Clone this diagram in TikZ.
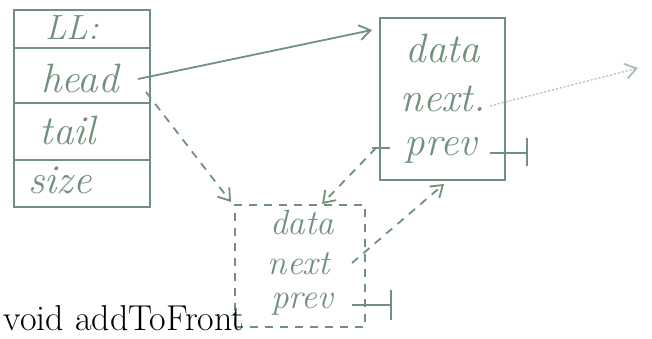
\documentclass[tikz,border=0pt]{standalone}
\usetikzlibrary{arrows.meta}
\definecolor{pencil}{RGB}{112,145,125}
\definecolor{pencilfaint}{RGB}{170,190,178}
\begin{document}
\begin{tikzpicture}[x=1pt,y=-1pt,
  line width=1.8pt, draw=pencil,
  cell/.style={draw=pencil, minimum width=136pt, inner sep=0pt},
  lbl/.style={text=pencil, font=\fontsize{41}{44}\selectfont\itshape, inner sep=0pt},
  smalllbl/.style={lbl, font=\fontsize{35}{37}\selectfont\itshape},
  tip/.style={-{Straight Barb[length=11pt,width=15pt,line width=1.8pt]}},
  sketchdash/.style={dash pattern=on 8pt off 7pt}]
\useasboundingbox (0,0) rectangle (652,339);

% LL object: a stack of four cells
\node[cell, minimum height=38pt] (llhdr)  at (82,29)  {};
\node[cell, minimum height=55pt] (llhead) at (82,75.5) {};
\node[cell, minimum height=57pt] (lltail) at (82,131.5) {};
\node[cell, minimum height=47pt] (llsize) at (82,183.5) {};
\node[lbl, font=\fontsize{35}{37}\selectfont\itshape] (tLL) at (72,28) {LL:};
\node[lbl] (thead) at (80,78) {head};
\node[lbl] (ttail) at (68,130) {tail};
\node[lbl] (tsize) at (60,180) {size};

% existing front node
\node[draw=pencil, minimum width=125pt, minimum height=162pt, inner sep=0pt] (n1) at (442.5,99) {};
\node[lbl] (n1data) at (443,48) {data};
\node[lbl] (n1next) at (443,99) {next.};
\node[lbl] (n1prev) at (441,150) {prev};

% new node (dashed)
\node[draw=pencil, sketchdash, minimum width=130pt, minimum height=122pt, inner sep=0pt] (n2) at (300,266) {};
\node[smalllbl] (n2data) at (302,223) {data};
\node[smalllbl] (n2next) at (299,264) {next};
\node[smalllbl] (n2prev) at (302,304) {prev};

% free ends
\coordinate (headsrc) at (138,79);
\coordinate (n1in) at (372,30);
\coordinate (headsrc2) at (146,92);
\coordinate (n2corner) at (231,202);
\coordinate (n1prevsrc) at (376,148);
\coordinate (n2datain) at (322,204);
\coordinate (n2nextsrc) at (352,263);
\coordinate (n1bottom) at (444,184);
\coordinate (n1nextsrc) at (490,106);
\coordinate (nextout) at (638,68);

% head -> existing node
\draw[tip] (headsrc) -- (n1in);
% head -> new node (planned)
\draw[tip, sketchdash] (headsrc2) -- (n2corner);
% existing node prev -> new node
\draw (n1prevsrc) ++(-4,0) -- ++(18,0);
\draw[tip, sketchdash] (n1prevsrc) -- (n2datain);
% new node next -> existing node
\draw[tip, sketchdash] (n2nextsrc) -- (n1bottom);
% existing node next -> rest of list (faint)
\draw[draw=pencilfaint, line width=1.2pt, dash pattern=on 2pt off 2pt, tip] (n1nextsrc) -- (nextout);

% null ends of prev
\coordinate (n1nil0) at (490,153);
\coordinate (n1nil) at (527,153);
\draw (n1nil0) -- (n1nil);
\draw (n1nil) ++(0,-15) -- ++(0,28);
\coordinate (n2nil0) at (352,305);
\coordinate (n2nil) at (391,305);
\draw (n2nil0) -- (n2nil);
\draw (n2nil) ++(0,-15) -- ++(0,30);

% caption
\node[anchor=west, inner sep=0pt, font=\fontsize{36}{38}\selectfont] (cap) at (3,318) {void addToFront};
\end{tikzpicture}
\end{document}
